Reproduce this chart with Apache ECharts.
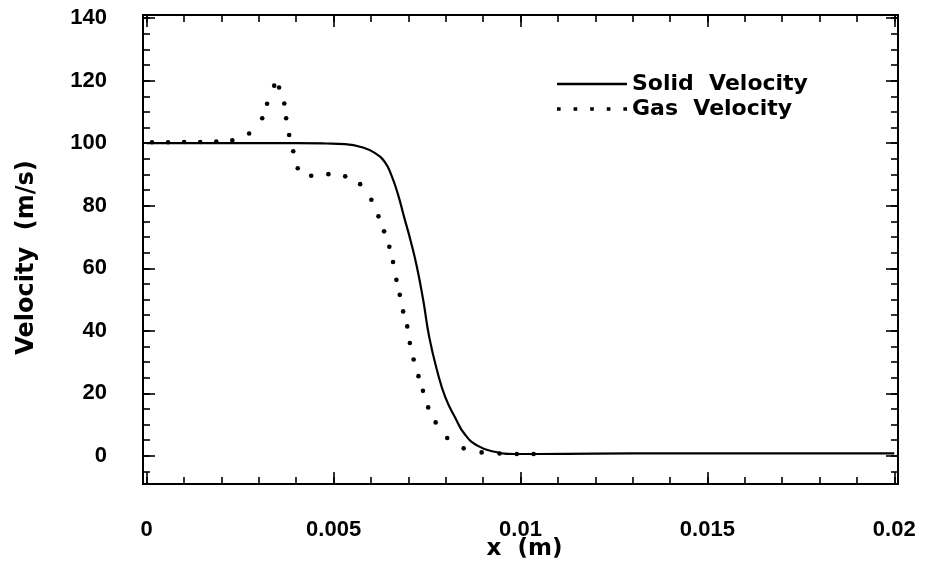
<!DOCTYPE html>
<html>
<head>
<meta charset="utf-8">
<script src="https://cdn.jsdelivr.net/npm/echarts@6/dist/echarts.min.js"></script>
<style>html,body{margin:0;padding:0;background:#fff}#c{width:926px;height:568px}</style>
</head>
<body>
<div id="c"></div>
<script>
// ---- data ----
const solidName = 'Solid  Velocity';
const gasName = 'Gas  Velocity';
const solidX = [0, 0.001, 0.002, 0.003, 0.004, 0.0048, 0.0053, 0.00576, 0.00611, 0.00638, 0.00655, 0.00672, 0.00689, 0.00706, 0.00723, 0.0074, 0.00756, 0.00777, 0.00799, 0.00825, 0.00851, 0.00886, 0.00931, 0.00984, 0.0104, 0.012, 0.014, 0.016, 0.018, 0.02];
const solidY = [100, 100, 100, 100, 100, 99.9, 99.7, 98.7, 96.8, 93.8, 89.6, 83.7, 76.2, 68.8, 60.3, 49.6, 37.9, 27.2, 18.7, 12.3, 6.9, 3.2, 1.3, 0.6, 0.6, 0.7, 0.8, 0.8, 0.8, 0.8];
const gasX = [0.00014, 0.00057, 0.0010, 0.00143, 0.00186, 0.00229, 0.00274, 0.00309, 0.00322, 0.00341, 0.00354, 0.00368, 0.00373, 0.00381, 0.00392, 0.00404, 0.0044, 0.00486, 0.00531, 0.00571, 0.00601, 0.0062, 0.00635, 0.00649, 0.00659, 0.00668, 0.00677, 0.00686, 0.00697, 0.00704, 0.00714, 0.00727, 0.00739, 0.00753, 0.00773, 0.00804, 0.00848, 0.00896, 0.00944, 0.0099, 0.01035];
const gasY = [100.3, 100.3, 100.4, 100.4, 100.5, 100.9, 103.1, 108.0, 112.6, 118.4, 117.8, 112.7, 108.0, 102.6, 97.4, 92.0, 89.6, 90.1, 89.4, 86.9, 81.9, 76.6, 71.8, 66.9, 62.0, 56.3, 51.5, 46.2, 41.4, 36.1, 30.8, 25.5, 20.8, 15.5, 10.7, 5.7, 2.4, 1.1, 0.75, 0.6, 0.6];

// ---- ticks ----
const xMajor = [0, 0.005, 0.01, 0.015, 0.02];
const xMajorLabels = ['0', '0.005', '0.01', '0.015', '0.02'];
const xMinor = [0, 0.001, 0.002, 0.003, 0.004, 0.005, 0.006, 0.007, 0.008, 0.009, 0.01, 0.011, 0.012, 0.013, 0.014, 0.015, 0.016, 0.017, 0.018, 0.019, 0.02];
const yMajor = [0, 20, 40, 60, 80, 100, 120, 140];
const yMinor = [-5, 0, 5, 10, 15, 20, 25, 30, 35, 40, 45, 50, 55, 60, 65, 70, 75, 80, 85, 90, 95, 100, 105, 110, 115, 120, 125, 130, 135, 140];
const xRange = [-0.0001, 0.0201];
const yRange = [-9, 141];

const solidData = solidX.map((x, i) => [x, solidY[i]]);
const gasData = gasX.map((x, i) => [x, gasY[i]]);

const labelFont = { fontFamily: 'Liberation Sans', fontWeight: 'bold', fontSize: 22, color: '#000' };
const titleFont = { fontFamily: 'DejaVu Sans', fontWeight: 'bold', color: '#000' };
const tickStyle = { color: '#000', width: 1.6 };

function xAx(pos, vals, len, withLabel) {
  const a = {
    type: 'value', min: xRange[0], max: xRange[1], position: pos,
    axisLine: { show: false, onZero: false },
    splitLine: { show: false },
    axisTick: { show: true, inside: true, length: len, customValues: vals, lineStyle: tickStyle },
    axisLabel: { show: false }
  };
  if (withLabel) {
    a.axisLabel = Object.assign({
      show: true, customValues: xMajor, margin: 35,
      formatter: v => { const i = xMajor.findIndex(t => Math.abs(t - v) < 1e-9); return i >= 0 ? xMajorLabels[i] : ''; }
    }, labelFont);
    a.name = 'x  (m)';
    a.nameLocation = 'middle';
    a.nameGap = 54;
    a.nameMoveOverlap = false;
    a.nameTextStyle = Object.assign({ fontSize: 23, padding: [0, 0, 0, 8] }, titleFont);
  }
  return a;
}
function yAx(pos, vals, len, withLabel) {
  const a = {
    type: 'value', min: yRange[0], max: yRange[1], position: pos,
    axisLine: { show: false, onZero: false },
    splitLine: { show: false },
    axisTick: { show: true, inside: true, length: len, customValues: vals, lineStyle: tickStyle },
    axisLabel: { show: false }
  };
  if (withLabel) {
    a.axisLabel = Object.assign({ show: true, customValues: yMajor, margin: 36 }, labelFont);
    a.name = 'Velocity  (m/s)';
    a.nameLocation = 'middle';
    a.nameGap = 104;
    a.nameMoveOverlap = false;
    a.nameTextStyle = Object.assign({ fontSize: 24, padding: [0, 16, 0, 0] }, titleFont);
  }
  return a;
}

const chart = echarts.init(document.getElementById('c'), null, { renderer: 'canvas' });
chart.setOption({
  animation: false,
  backgroundColor: '#fff',
  grid: { left: 143, right: 28, top: 15, bottom: 84, outerBoundsMode: 'none', containLabel: false,
    show: true, borderColor: '#000', borderWidth: 2, backgroundColor: 'transparent' },
  legend: {
    orient: 'vertical', left: 552, top: 68,
    itemWidth: 70, itemHeight: 14, itemGap: 3,
    textStyle: { fontFamily: 'DejaVu Sans', fontWeight: 'bold', fontSize: 22, color: '#000', lineHeight: 22 },
    data: [
      { name: solidName, icon: 'path://M0,0h70v2.4h-70z' },
      { name: gasName, icon: 'path://M0,0h3.5v3.5h-3.5z M16,0h3.5v3.5h-3.5z M32,0h3.5v3.5h-3.5z M48,0h3.5v3.5h-3.5z M64,0h3.5v3.5h-3.5z' }
    ]
  },
  xAxis: [xAx('bottom', xMajor, 12, true), xAx('bottom', xMinor, 7, false), xAx('top', xMajor, 12, false), xAx('top', xMinor, 7, false)],
  yAxis: [yAx('left', yMajor, 12, true), yAx('left', yMinor, 7, false), yAx('right', yMajor, 12, false), yAx('right', yMinor, 7, false)],
  series: [
    { name: solidName, type: 'line', xAxisIndex: 0, yAxisIndex: 0, data: solidData, showSymbol: false, symbol: 'none',
      smooth: 0.5, color: '#000', lineStyle: { color: '#000', width: 2.2 } },
    { name: gasName, type: 'scatter', xAxisIndex: 0, yAxisIndex: 0, data: gasData, symbol: 'circle', symbolSize: 4.6,
      color: '#000', itemStyle: { color: '#000', opacity: 1 } }
  ]
});
</script>
</body>
</html>
